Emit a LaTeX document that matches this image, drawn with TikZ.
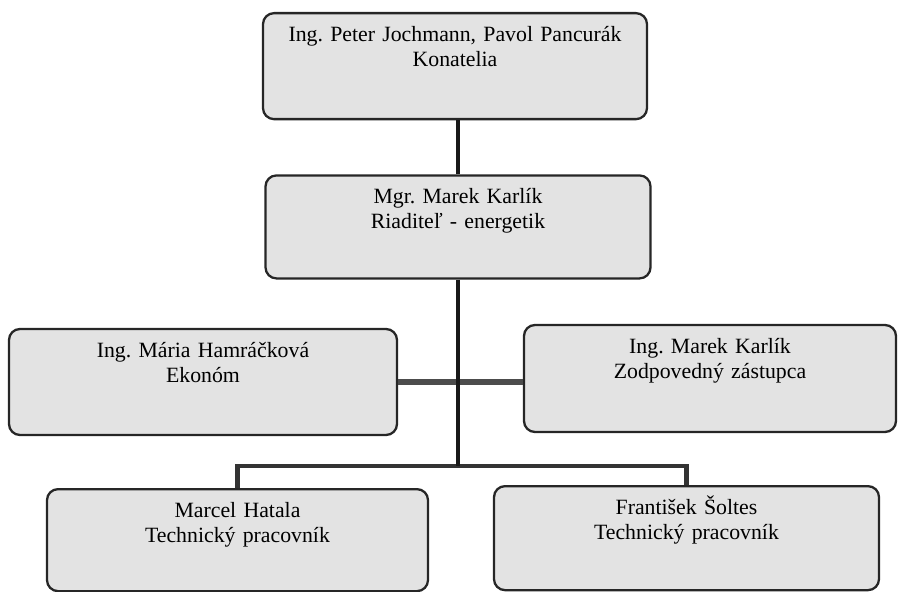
\documentclass[tikz,border=0pt]{standalone}
\usepackage{fontspec}
\setmainfont{Liberation Serif}
\frenchspacing
\usetikzlibrary{positioning}
\tikzset{
    %Define box for one person
    osoba/.style={
      rectangle,
      rounded corners=0.22cm,
      draw=black!85, line width=1.3pt,
      fill=black!11,
      inner xsep=0pt,
      inner ysep=0.15cm,
      text width=#1,
      align=center,
      text height=0.42cm,
      text depth=1.40cm,
      font=\fontsize{12.4}{14.2}\selectfont},
    osoba/.default=7.6cm,
    spoj/.style={
      draw=black!90, line width=2.3pt},
}

\begin{document}
\begin{tikzpicture}
    \useasboundingbox (0,0) rectangle (17.98,-11.84);
    \node (konatelia) [osoba=7.68cm, anchor=north] at (9.10,-0.24)
          {Ing. Peter Jochmann, Pavol Pancurák\\Konatelia};
    \node (riaditel) [osoba=7.7cm, text depth=1.34cm]
          [below=1.08cm of konatelia, xshift=0.06cm]
          {Mgr. Marek Karlík\\Riaditeľ - energetik};
    \node (ekonom) [osoba=7.76cm] at (4.06,-7.64)
          {Ing. Mária Hamráčková\\Ekonóm};
    \node (zastupca) [osoba=7.44cm, text depth=1.42cm] at (14.2,-7.57)
          {Ing. Marek Karlík\\Zodpovedný zástupca};
    \node (hatala) [osoba=7.62cm, text depth=1.32cm, anchor=north] at (4.75,-9.76)
          {Marcel Hatala\\Technický pracovník};
    \node (soltes) [osoba=7.7cm, text depth=1.36cm, anchor=north] at (13.73,-9.70)
          {František Šoltes\\Technický pracovník};
    \coordinate (rozvod) at (9.16,-9.32);

    \draw [spoj] (riaditel.north) -- (riaditel.north |- konatelia.south);
    \draw [spoj, line width=3.2pt, draw=black!70]
          (ekonom.east) -- (ekonom.east -| zastupca.west);
    \draw [spoj, line width=2.8pt, draw=black!80] (hatala.north) |- (rozvod) -| (soltes.north);
    \draw [spoj] (riaditel.south) -- (riaditel.south |- rozvod);
\end{tikzpicture}
\end{document}
